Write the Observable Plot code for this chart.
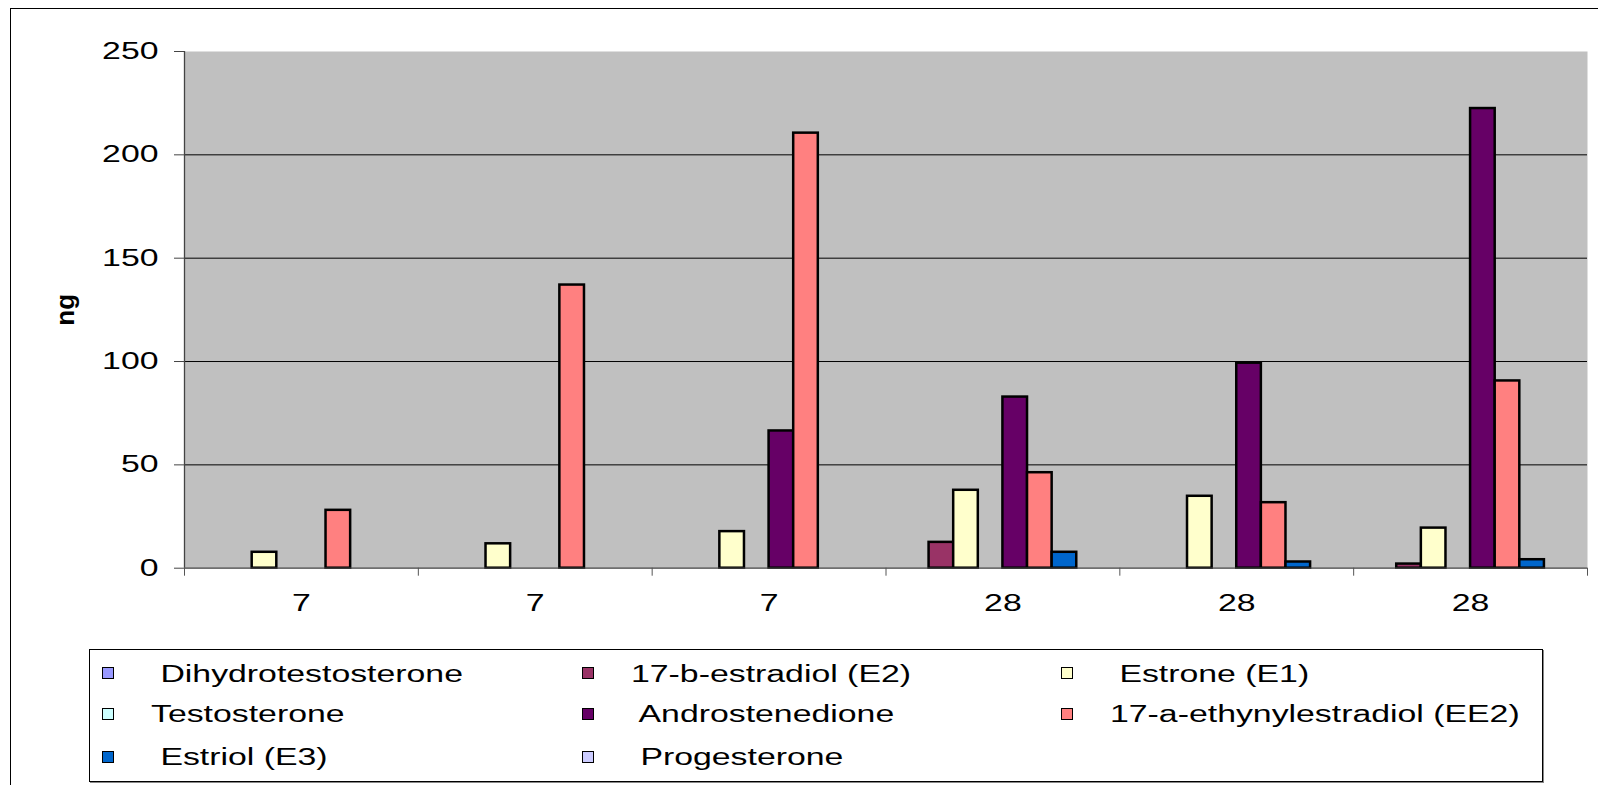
<!DOCTYPE html>
<html><head><meta charset="utf-8">
<script src="https://cdn.jsdelivr.net/npm/d3@7"></script>
<script src="https://cdn.jsdelivr.net/npm/@observablehq/plot@0.6"></script>
<style>
body{margin:0;background:#fff;font-family:"Liberation Sans",Arial,sans-serif;}
#wrap{position:relative;width:1598px;height:785px;overflow:hidden;background:#fff;}
#border{position:absolute;left:10px;top:8px;width:1700px;height:900px;border-left:1px solid #000;border-top:1px solid #000;pointer-events:none;}
#legend{position:absolute;left:89px;top:649px;width:1452px;height:131px;border:1px solid #000;box-shadow:1px 1px 0 #888;background:#fff;}
.sw{position:absolute;width:10px;height:10px;border:1.5px solid #000;}
.lab{position:absolute;white-space:pre;font-size:23px;line-height:24px;transform:scaleX(1.47);transform-origin:0 50%;color:#000;}
</style></head>
<body><div id="wrap"><div id="chart"></div><div id="legend"></div><div id="border"></div></div>
<script>
// ---- data ----
const categories = ["7", "7", "7", "28", "28", "28"];
const series = [" Dihydrotestosterone", "17-b-estradiol (E2)", " Estrone (E1)", "Testosterone", " Androstenedione", "17-a-ethynylestradiol (EE2)", " Estriol (E3)", " Progesterone"];
const colors = ["#9999FF", "#993366", "#FFFFCC", "#CCFFFF", "#660066", "#FF8080", "#0066CC", "#CCCCFF"];
const dihydrotestosterone = [0, 0, 0, 0, 0, 0];
const estradiolE2 = [0, 0, 0, 12.5, 0, 2];
const estroneE1 = [7.7, 11.8, 17.7, 37.7, 34.8, 19.4];
const testosterone = [0, 0, 0, 0, 0, 0];
const androstenedione = [0, 0, 66.4, 82.8, 99.2, 222.4];
const ethynylestradiolEE2 = [28, 137, 210.5, 46.2, 31.7, 90.6];
const estriolE3 = [0, 0, 0, 7.7, 3, 4.1];
const progesterone = [0, 0, 0, 0, 0, 0];
const yTicks = [0, 50, 100, 150, 200, 250];
const values = [dihydrotestosterone, estradiolE2, estroneE1, testosterone, androstenedione, ethynylestradiolEE2, estriolE3, progesterone];

const data = [];
series.forEach((name, si) => values[si].forEach((v, ci) => data.push({cat: ci, s: si, name, value: v})));

const nS = series.length, gap = 1.5, step = nS + gap; // Excel gap width 150%
const textScale = 1.47;

const chart = Plot.plot({
  width: 1598, height: 640,
  marginLeft: 184, marginRight: 11, marginTop: 51, marginBottom: 72.3,
  style: {fontFamily: "'Liberation Sans', Arial, sans-serif", fontSize: "23px", background: "white", color: "black", overflow: "visible"},
  x: {domain: [0, categories.length]},
  y: {domain: [0, 250]},
  color: {domain: series, range: colors},
  marks: [
    Plot.frame({fill: "#C0C0C0", stroke: null}),
    Plot.ruleY([50, 100, 150, 200], {stroke: "#000", strokeWidth: 1}),
    Plot.rectY(data.filter(d => d.value > 0), {
      x1: d => d.cat + (gap / 2 + d.s) / step,
      x2: d => d.cat + (gap / 2 + d.s + 1) / step,
      y1: 0, y2: "value", fill: "name", stroke: "#000", strokeWidth: 2.5
    }),
    Plot.ruleX([0], {stroke: "#444", strokeWidth: 1.3}),
    Plot.ruleY([0], {stroke: "#444", strokeWidth: 1.3}),
    Plot.axisY({ticks: yTicks, tickSize: 10, tickPadding: 16, fontSize: 23, stroke: "#444", label: null}),
    Plot.axisX({ticks: d3.range(categories.length + 1), tickSize: 8, tickFormat: () => "", stroke: "#555", label: null}),
    Plot.axisX({ticks: categories.map((c, i) => i + 0.5), tickSize: 0, tickPadding: 26, tickFormat: v => categories[Math.floor(v)], fontSize: 23, label: null}),
    Plot.text(["ng"], {frameAnchor: "left", textAnchor: "middle", dx: -119, rotate: -90, fontWeight: "bold", fontSize: 26})
  ]
});

// horizontal stretch of the (non-rotated) texts, like the original export
chart.querySelectorAll("text").forEach(t => {
  const tr = t.getAttribute("transform") || "";
  if (tr.includes("rotate")) return;
  const x = +(t.getAttribute("x") || 0);
  if (t.hasAttribute("x")) t.setAttribute("x", 0);
  t.setAttribute("transform", `${tr} translate(${x},0) scale(${textScale},1)`);
});
document.getElementById("chart").appendChild(chart);

// ---- legend (3 columns, row-wise) ----
const legend = document.getElementById("legend");
const colX = [12, 492, 971];
const rowY = [23.6, 64.4, 107];
series.forEach((name, i) => {
  const r = Math.floor(i / 3), c = i % 3;
  const sw = document.createElement("div");
  sw.className = "sw";
  sw.style.left = colX[c] + "px";
  sw.style.top = (rowY[r] - 6.5) + "px";
  sw.style.background = colors[i];
  legend.appendChild(sw);
  const lab = document.createElement("div");
  lab.className = "lab";
  lab.textContent = name;
  lab.style.left = (colX[c] + 49) + "px";
  lab.style.top = (rowY[r] - 12) + "px";
  legend.appendChild(lab);
});
</script>
</body></html>
